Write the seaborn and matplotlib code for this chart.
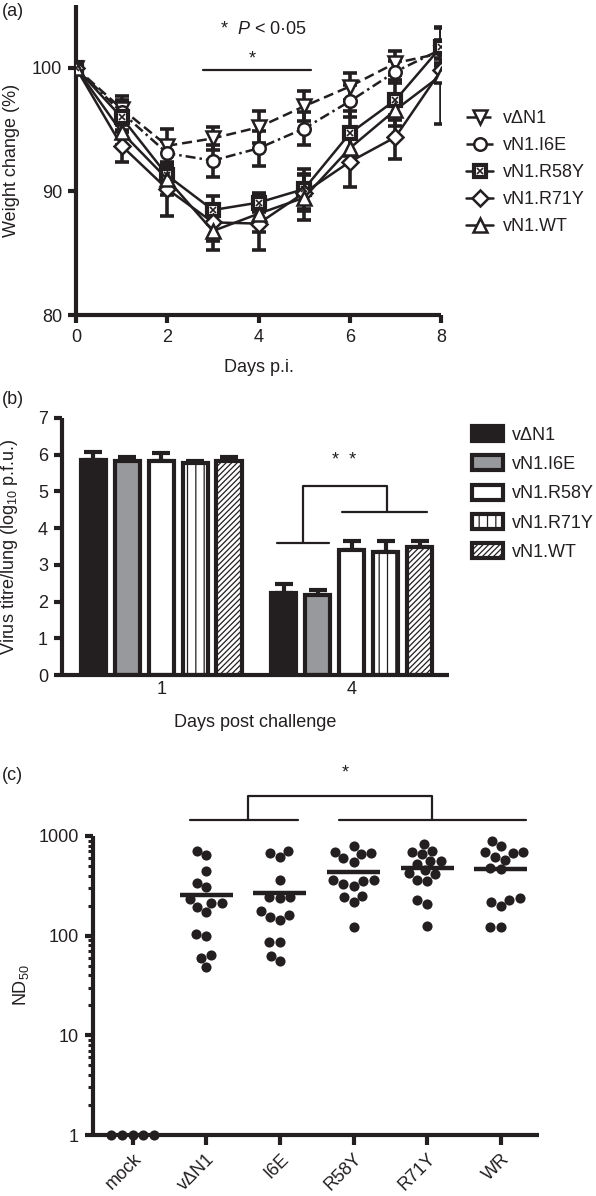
import numpy as np
import pandas as pd
import matplotlib
matplotlib.use("Agg")
import matplotlib.pyplot as plt
import seaborn as sns
from matplotlib.patches import Patch
from matplotlib.lines import Line2D

# ------------------------------------------------------------------ data (a)
days = [0, 1, 2, 3, 4, 5, 6, 7, 8]
names_a = ["vΔN1", "vN1.I6E", "vN1.R58Y", "vN1.R71Y", "vN1.WT"]
w_dN1 = [100, 96.7, 93.7, 94.3, 95.2, 96.9, 98.5, 100.4, 101.2]
w_I6E = [100, 96.4, 93.1, 92.5, 93.5, 95.1, 97.3, 99.7, 101.5]
w_R58Y = [100, 96.0, 91.3, 88.5, 89.1, 90.2, 94.7, 97.4, 101.7]
w_R71Y = [100, 93.7, 90.2, 87.5, 87.4, 89.9, 92.4, 94.4, 99.8]
w_WT = [100, 94.8, 91.0, 86.8, 88.2, 89.5, 93.5, 96.6, 99.4]
e_dN1 = [0, 1.0, 1.4, 0.9, 1.3, 1.2, 1.1, 1.0, 0.8]
e_I6E = [0, 1.0, 1.0, 1.3, 1.4, 1.3, 1.3, 0.9, 0.8]
e_R58Y = [0, 1.2, 1.0, 1.1, 0.8, 1.6, 1.8, 1.6, 1.5]
e_R71Y = [0, 1.3, 2.2, 1.5, 2.1, 1.5, 2.0, 1.8, 1.0]
e_WT = [0, 1.0, 1.3, 1.5, 1.5, 1.8, 1.3, 1.3, 3.9]

# ------------------------------------------------------------------ data (b)
days_b = ["1", "4"]
names_b = ["vΔN1", "vN1.I6E", "vN1.R58Y", "vN1.R71Y", "vN1.WT"]
t_dN1 = [5.86, 2.23]
t_I6E = [5.82, 2.18]
t_R58Y = [5.82, 3.41]
t_R71Y = [5.78, 3.34]
t_WT = [5.82, 3.49]
te_dN1 = [0.21, 0.25]
te_I6E = [0.13, 0.13]
te_R58Y = [0.22, 0.25]
te_R71Y = [0.06, 0.30]
te_WT = [0.13, 0.17]

# ------------------------------------------------------------------ data (c)
groups_c = ["mock", "vΔN1", "I6E", "R58Y", "R71Y", "WR"]
nd_mock = [1, 1, 1, 1, 1]
nd_dN1 = [713, 644, 446, 340, 306, 233, 214, 174, 193, 214, 104, 100, 64, 60, 49]
nd_I6E = [670, 611, 713, 362, 246, 237, 246, 162, 144, 155, 178, 87, 87, 56, 63]
nd_R58Y = [794, 670, 597, 553, 685, 659, 362, 354, 318, 330, 362, 243, 216, 252, 123]
nd_R71Y = [826, 655, 685, 713, 561, 561, 520, 456, 416, 423, 357, 362, 228, 208, 125]
nd_WR = [794, 685, 670, 697, 897, 574, 611, 463, 481, 237, 219, 199, 228, 121, 121]

# ------------------------------------------------------------------ style
INK = "#231f20"
sns.set_theme(style="ticks")
plt.rcParams["font.family"] = ["Liberation Sans", "DejaVu Sans"]
plt.rcParams["mathtext.fontset"] = "custom"
plt.rcParams["mathtext.rm"] = "Liberation Sans"
plt.rcParams["mathtext.it"] = "Liberation Sans:italic"
plt.rcParams["font.size"] = 13
plt.rcParams["text.color"] = INK
plt.rcParams["axes.labelcolor"] = INK
plt.rcParams["hatch.linewidth"] = 0.9
plt.rcParams["hatch.color"] = INK

FS = 13
W, H = 596, 1196
fig = plt.figure(figsize=(W / 100, H / 100), dpi=100)


def box(l, t, r, b):
    return [l / W, 1 - b / H, (r - l) / W, (b - t) / H]


def style_axes(ax, xtick_len=6, ytick_len=6):
    sns.despine(ax=ax)
    for s in ["left", "bottom"]:
        ax.spines[s].set_linewidth(3)
        ax.spines[s].set_color(INK)
        ax.spines[s].set_capstyle("butt")
    ax.tick_params(axis="x", which="major", length=xtick_len, width=3, color=INK,
                   labelsize=FS, labelcolor=INK, pad=4)
    ax.tick_params(axis="y", which="major", length=ytick_len, width=3, color=INK,
                   labelsize=FS, labelcolor=INK, pad=4)


# ================================================================== (a)
ax1 = fig.add_axes(box(76, 5, 441, 315))
series_a = [w_dN1, w_I6E, w_R58Y, w_R71Y, w_WT]
errs_a = [e_dN1, e_I6E, e_R58Y, e_R71Y, e_WT]
markers_a = ["v", "o", "s", "D", "^"]
msizes_a = [10, 9, 9, 8, 10]
lstyles_a = [(0, (4, 2)), (0, (4, 1.6, 1, 1.6)), "-", "-", "-"]

for vals, errs in zip(series_a, errs_a):
    ax1.errorbar(days, vals, yerr=errs, fmt="none", ecolor=INK, elinewidth=2.6,
                 capsize=5, capthick=2.6, zorder=1.5)

for name, vals, mk, ms, ls in zip(names_a, series_a, markers_a, msizes_a, lstyles_a):
    sns.lineplot(x=days, y=vals, ax=ax1, color=INK, marker=mk, markersize=ms,
                 mfc="white", mec=INK, mew=1.8, linestyle=ls, lw=1.8, zorder=3)
# cross inside the R58Y squares
sns.lineplot(x=days, y=w_R58Y, ax=ax1, color=INK, marker="x", markersize=4,
             mec=INK, mew=1.2, linestyle="none", zorder=4)
for ln in ax1.lines:
    if ln.get_marker() == "s":
        ln.set_markeredgewidth(3.0)

ax1.set_xlim(0, 8)
ax1.set_ylim(80, 105.1)
ax1.set_xticks([0, 2, 4, 6, 8])
ax1.set_yticks([80, 90, 100])
style_axes(ax1)
ax1.set_xlabel("Days p.i.", fontsize=FS)
ax1.set_ylabel("Weight change (%)", fontsize=FS)
ax1.xaxis.set_label_coords(0.5, -0.142)
ax1.yaxis.set_label_coords(-0.153, 0.5)

# significance annotation
ax1.text(4.11, 103.1, r"*  $P$ < 0·05", ha="center", va="center", fontsize=FS)
ax1.plot([2.78, 5.16], [99.8, 99.8], color=INK, lw=1.6)
ax1.text(3.87, 100.7, "*", ha="center", va="center", fontsize=FS)

# legend (a)
handles_a = []
for mk, ms, ls in zip(markers_a, msizes_a, lstyles_a):
    h = Line2D([], [], color=INK, marker=mk, markersize=ms, mfc="white", mec=INK,
               mew=3.0 if mk == "s" else 1.8, linestyle=ls, lw=1.8)
    if mk == "s":
        h = (h, Line2D([], [], color=INK, marker="x", markersize=4, mew=1.2, linestyle="none"))
    handles_a.append(h)
fig.legend(handles_a, names_a, loc="upper left", bbox_to_anchor=(466 / W, 1 - 110 / H),
           bbox_transform=fig.transFigure, frameon=False, fontsize=FS, borderpad=0,
           borderaxespad=0, handlelength=1.5, handletextpad=0.55, labelspacing=0.56)
fig.text(2 / W, 1 - 12 / H, "(a)", ha="left", va="center", fontsize=FS)

# ================================================================== (b)
ax2 = fig.add_axes(box(62, 418, 449, 675))
series_b = [t_dN1, t_I6E, t_R58Y, t_R71Y, t_WT]
errs_b = [te_dN1, te_I6E, te_R58Y, te_R71Y, te_WT]
dfb = pd.DataFrame({
    "day": np.tile(days_b, len(names_b)),
    "virus": np.repeat(names_b, len(days_b)),
    "titre": np.concatenate(series_b),
})
faces_b = [INK, "#98999c", "white", "white", "white"]
hatches_b = [None, None, None, "||", "//////"]
sns.barplot(data=dfb, x="day", y="titre", hue="virus", order=days_b, hue_order=names_b,
            palette=faces_b, edgecolor=INK, linewidth=3, width=0.89, gap=0.26,
            errorbar=None, saturation=1, legend=False, ax=ax2, zorder=2)
for cont, errs, hatch in zip(ax2.containers, errs_b, hatches_b):
    xs, tops = [], []
    for bar in cont:
        if hatch:
            bar.set_hatch(hatch)
        xs.append(bar.get_x() + bar.get_width() / 2)
        tops.append(bar.get_height())
    ax2.errorbar(xs, tops, yerr=[np.zeros(len(errs)), errs], fmt="none", ecolor=INK,
                 elinewidth=3, capsize=6.5, capthick=3, zorder=1)

ax2.set_xlim(-0.52, 1.51)
ax2.set_ylim(0, 7)
ax2.set_yticks(range(0, 8))
style_axes(ax2, xtick_len=0)
ax2.set_xlabel("Days post challenge", fontsize=FS)
ax2.set_ylabel(r"Virus titre/lung (log$_{10}$ p.f.u.)", fontsize=FS)
ax2.xaxis.set_label_coords(0.5, -0.152)
ax2.yaxis.set_label_coords(-0.109, 0.5)

# bracket
bx = [0.607, 0.88, 0.743, 1.183, 0.948, 1.393]
by = [3.6, 5.15, 4.44]
ax2.plot([bx[0], bx[1]], [by[0], by[0]], color=INK, lw=1.6, zorder=3)
ax2.plot([bx[2], bx[2], bx[3], bx[3]], [by[0], by[1], by[1], by[2]], color=INK, lw=1.6, zorder=3)
ax2.plot([bx[4], bx[5]], [by[2], by[2]], color=INK, lw=1.6, zorder=3)
ax2.text(0.958, 5.85, "*  *", ha="center", va="center", fontsize=FS)

handles_b = [Patch(facecolor=f, edgecolor=INK, hatch=h, linewidth=3)
             for f, h in zip(faces_b, hatches_b)]
fig.legend(handles_b, names_b, loc="upper left", bbox_to_anchor=(472 / W, 1 - 426 / H),
           bbox_transform=fig.transFigure, frameon=False, fontsize=FS, borderpad=0,
           borderaxespad=0, handlelength=1.7, handleheight=0.9, handletextpad=0.5,
           labelspacing=0.64)
fig.text(2 / W, 1 - 400 / H, "(b)", ha="left", va="center", fontsize=FS)

# ================================================================== (c)
ax3 = fig.add_axes(box(93, 836, 539, 1135))
series_c = [nd_mock, nd_dN1, nd_I6E, nd_R58Y, nd_R71Y, nd_WR]
dfc = pd.DataFrame({
    "group": np.concatenate([[g] * len(v) for g, v in zip(groups_c, series_c)]),
    "nd50": np.concatenate(series_c).astype(float),
})
ax3.set_yscale("log")
ax3.set_ylim(1, 1000)
sns.swarmplot(data=dfc, x="group", y="nd50", order=groups_c, color=INK, size=7.3,
              linewidth=0, ax=ax3, zorder=3)
for coll in ax3.collections:
    coll.set_clip_on(False)
for i, vals in enumerate(series_c):
    if i == 0:
        continue
    m = np.mean(vals)
    ax3.hlines(m, i - 0.36, i + 0.36, color=INK, lw=3.2, zorder=4)

ax3.set_xlim(-0.54, 5.52)
ax3.set_ylim(1, 1000)
ax3.set_yticks([1, 10, 100, 1000])
ax3.set_yticklabels(["1", "10", "100", "1000"])
style_axes(ax3, xtick_len=7, ytick_len=6)
ax3.tick_params(axis="y", which="minor", length=3.5, width=2.2, color=INK, left=True)
ax3.set_xticks(range(len(groups_c)))
ax3.set_xticklabels(groups_c, rotation=45, ha="right", rotation_mode="anchor", fontsize=FS)
ax3.set_xlabel("")
ax3.set_ylabel(r"ND$_{50}$", fontsize=FS)
ax3.yaxis.set_label_coords(-0.14, 0.5)

cx = [0.78, 2.25, 2.80, 5.34, 1.57, 4.07]
cy = [1445, 2535]
kw = dict(color=INK, lw=1.6, clip_on=False, zorder=3)
ax3.plot([cx[0], cx[1]], [cy[0], cy[0]], **kw)
ax3.plot([cx[2], cx[3]], [cy[0], cy[0]], **kw)
ax3.plot([cx[4], cx[4], cx[5], cx[5]], [cy[0], cy[1], cy[1], cy[0]], **kw)
ax3.text(2.885, 4300, "*", ha="center", va="center", fontsize=FS)
fig.text(2 / W, 1 - 775 / H, "(c)", ha="left", va="center", fontsize=FS)

fig.savefig("out.png", dpi=100)
